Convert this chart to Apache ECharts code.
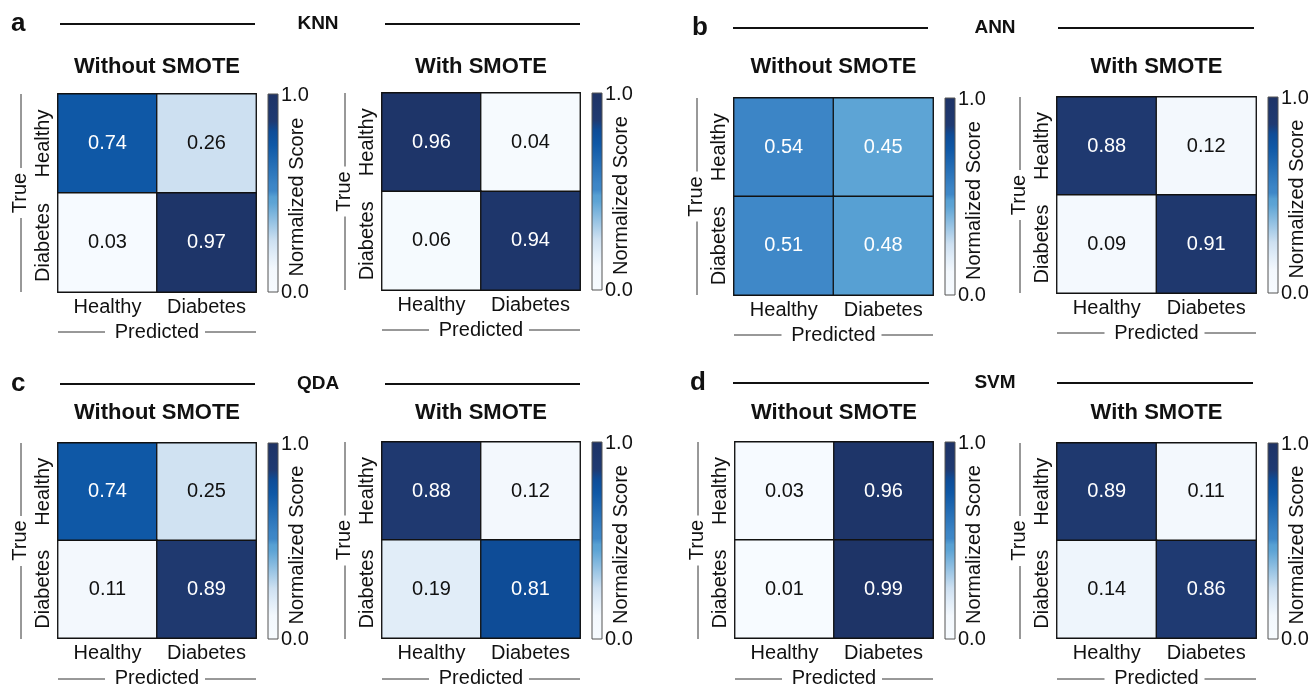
<!DOCTYPE html>
<html><head><meta charset="utf-8">
<script src="https://cdn.jsdelivr.net/npm/echarts@6/dist/echarts.min.js"></script>
<style>html,body{margin:0;padding:0;background:#fff}#c{width:1312px;height:689px}</style>
</head><body><div id="c"></div>
<script>
// ---- data ----
const classes = ['Healthy', 'Diabetes'];
const knnWithout = [[0.74, 0.26], [0.03, 0.97]];
const knnWith    = [[0.96, 0.04], [0.06, 0.94]];
const annWithout = [[0.54, 0.45], [0.51, 0.48]];
const annWith    = [[0.88, 0.12], [0.09, 0.91]];
const qdaWithout = [[0.74, 0.25], [0.11, 0.89]];
const qdaWith    = [[0.88, 0.12], [0.19, 0.81]];
const svmWithout = [[0.03, 0.96], [0.01, 0.99]];
const svmWith    = [[0.89, 0.11], [0.14, 0.86]];
const sectionNames = ['KNN', 'ANN', 'QDA', 'SVM'];
const panelLetters = ['a', 'b', 'c', 'd'];
const subTitles = ['Without SMOTE', 'With SMOTE'];
const cbTickLabels = ['0.0', '1.0'];
const xAxisName = 'Predicted';
const yAxisName = 'True';
const cbName = 'Normalized Score';

const matrices = [knnWithout, knnWith, annWithout, annWith, qdaWithout, qdaWith, svmWithout, svmWith];

// ---- layout / style ----
const FONT = "'Liberation Sans', Arial, Helvetica, sans-serif";
const FS = 20;
const boxes = [
  [58, 94, 198, 198], [382, 93, 198, 197], [734, 98, 199, 197], [1057, 97, 199, 196],
  [58, 443, 198, 196], [382, 442, 198, 197], [735, 442, 198, 197], [1057, 443, 199, 196]
];
const subTitleY = [67, 67, 67, 67, 413, 413, 413, 413];
const sections = [
  { lx: 11, y: 24, l1: [60, 255], mid: 318, l2: [385, 580] },
  { lx: 692, y: 28, l1: [733, 928], mid: 995, l2: [1058, 1254] },
  { lx: 11, y: 384, l1: [60, 255], mid: 318, l2: [385, 580] },
  { lx: 690, y: 383, l1: [733, 929], mid: 995, l2: [1057, 1253] }
];
const anchors = [
  [0, '#f7fbff'], [0.12, '#f3f8fd'], [0.19, '#e1edf8'], [0.26, '#cde0f1'],
  [0.45, '#5da4d5'], [0.48, '#57a0d3'], [0.51, '#3f88c8'], [0.54, '#3c85c6'],
  [0.74, '#0f58a6'], [0.81, '#0e4c97'], [0.86, '#1f3a72'], [1, '#1e3366']
];
function hex2rgb(h) { return [1, 3, 5].map(i => parseInt(h.substr(i, 2), 16)); }
function colorAt(v) {
  for (let i = 1; i < anchors.length; i++) {
    if (v <= anchors[i][0]) {
      const [a, ca] = anchors[i - 1], [b, cb] = anchors[i];
      const t = (v - a) / (b - a);
      const A = hex2rgb(ca), B = hex2rgb(cb);
      const c = A.map((x, k) => Math.round(x + (B[k] - x) * t));
      return 'rgb(' + c.join(',') + ')';
    }
  }
  return anchors[anchors.length - 1][1];
}
const rampColors = [];
for (let i = 0; i <= 100; i++) rampColors.push(colorAt(i / 100));

const grids = [], xAxes = [], yAxes = [], series = [], graphics = [];
matrices.forEach((m, gi) => {
  const [L, T, W, H] = boxes[gi];
  grids.push({ left: L, top: T, width: W, height: H, show: true, borderColor: '#111', borderWidth: 1.5, backgroundColor: 'transparent' });
  xAxes.push({
    type: 'category', gridIndex: gi, data: classes, position: 'bottom',
    axisLine: { show: false }, axisTick: { show: false }, splitLine: { show: false },
    axisLabel: { fontSize: FS, color: '#111', margin: 5, fontFamily: FONT, interval: 0, hideOverlap: false },
    name: xAxisName, nameLocation: 'middle', nameGap: 30,
    nameTextStyle: { fontSize: FS, color: '#111', fontFamily: FONT, verticalAlign: 'top' }
  });
  yAxes.push({
    type: 'category', gridIndex: gi, data: classes, inverse: true,
    axisLine: { show: false }, axisTick: { show: false }, splitLine: { show: false },
    axisLabel: { fontSize: FS, color: '#111', margin: 5, rotate: 90, fontFamily: FONT, interval: 0, hideOverlap: false },
    name: yAxisName, nameLocation: 'middle', nameGap: 28, nameRotate: 90,
    nameTextStyle: { fontSize: FS, color: '#111', fontFamily: FONT }
  });
  const data = [];
  m.forEach((row, r) => row.forEach((v, c) => {
    data.push({ value: [c, r, v], label: { color: v >= 0.45 ? '#fff' : '#111' } });
  }));
  series.push({
    type: 'heatmap', xAxisIndex: gi, yAxisIndex: gi, data: data,
    itemStyle: { borderColor: '#111', borderWidth: 1.3 },
    label: { show: true, fontSize: FS, fontFamily: FONT, formatter: p => p.value[2].toFixed(2) },
    emphasis: { disabled: true }
  });

  // subtitle
  graphics.push({ type: 'text', x: L + W / 2, y: subTitleY[gi],
    style: { text: subTitles[gi % 2], font: 'bold 22px ' + FONT, fill: '#111', textAlign: 'center', textVerticalAlign: 'middle' } });
  // Predicted side lines
  const cx = L + W / 2, py = T + H + 40;
  graphics.push({ type: 'line', shape: { x1: L, y1: py, x2: cx - 52, y2: py }, style: { stroke: '#333', lineWidth: 1 } });
  graphics.push({ type: 'line', shape: { x1: cx + 48, y1: py, x2: L + W, y2: py }, style: { stroke: '#333', lineWidth: 1 } });
  // True side lines
  const cy = T + H / 2, tx = L - 37;
  graphics.push({ type: 'line', shape: { x1: tx, y1: T, x2: tx, y2: cy - 25 }, style: { stroke: '#333', lineWidth: 1 } });
  graphics.push({ type: 'line', shape: { x1: tx, y1: cy + 25, x2: tx, y2: T + H }, style: { stroke: '#333', lineWidth: 1 } });
  // colorbar
  const cbx = L + W + 12;
  graphics.push({ type: 'rect', shape: { x: cbx, y: T, width: 10, height: H },
    style: { fill: new echarts.graphic.LinearGradient(0, 1, 0, 0, anchors.map(a => ({ offset: a[0], color: a[1] }))), stroke: '#555', lineWidth: 1 } });
  graphics.push({ type: 'text', x: cbx + 13, y: T + 1, style: { text: cbTickLabels[1], font: FS + 'px ' + FONT, fill: '#111', textAlign: 'left', textVerticalAlign: 'middle' } });
  graphics.push({ type: 'text', x: cbx + 13, y: T + H, style: { text: cbTickLabels[0], font: FS + 'px ' + FONT, fill: '#111', textAlign: 'left', textVerticalAlign: 'middle' } });
  graphics.push({ type: 'text', x: cbx + 29, y: cy + 4, rotation: Math.PI / 2,
    style: { text: cbName, font: FS + 'px ' + FONT, fill: '#111', textAlign: 'center', textVerticalAlign: 'middle' } });
});

sections.forEach((s, i) => {
  graphics.push({ type: 'text', x: s.lx, y: s.y, style: { text: panelLetters[i], font: 'bold 26px ' + FONT, fill: '#111', textAlign: 'left', textVerticalAlign: 'middle' } });
  graphics.push({ type: 'line', shape: { x1: s.l1[0], y1: s.y, x2: s.l1[1], y2: s.y }, style: { stroke: '#111', lineWidth: 2 } });
  graphics.push({ type: 'line', shape: { x1: s.l2[0], y1: s.y, x2: s.l2[1], y2: s.y }, style: { stroke: '#111', lineWidth: 2 } });
  graphics.push({ type: 'text', x: s.mid, y: s.y, style: { text: sectionNames[i], font: 'bold 19px ' + FONT, fill: '#111', textAlign: 'center', textVerticalAlign: 'middle' } });
});

const chart = echarts.init(document.getElementById('c'), null, { renderer: 'canvas' });
chart.setOption({
  animation: false,
  backgroundColor: '#fff',
  textStyle: { fontFamily: FONT },
  grid: grids, xAxis: xAxes, yAxis: yAxes,
  visualMap: { show: false, type: 'continuous', min: 0, max: 1, dimension: 2,
    seriesIndex: matrices.map((_, i) => i), inRange: { color: rampColors } },
  series: series,
  graphic: { elements: graphics }
});
</script>
</body></html>
